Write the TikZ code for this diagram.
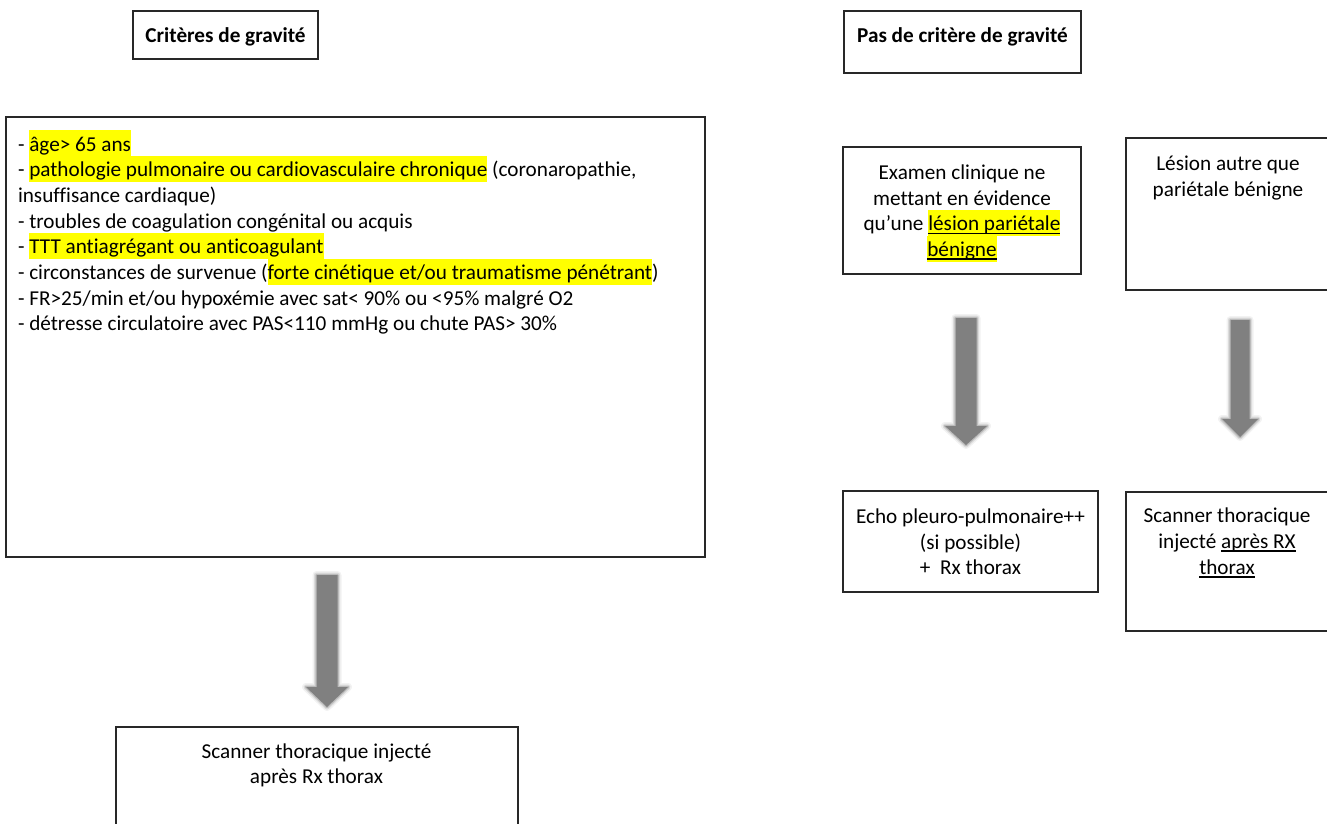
\documentclass[tikz,border=0pt]{standalone}
\usepackage{fontspec}
\setmainfont{Carlito}[Ligatures={NoCommon,NoContextual}, RawFeature={-liga;-clig;-calt;-dlig}]
\usetikzlibrary{calc,fit}
\definecolor{hly}{RGB}{255,255,0}
\definecolor{arrowgray}{RGB}{128,128,128}
\definecolor{boxline}{RGB}{40,40,40}
\newcommand\ms{\rule[-5.1pt]{0pt}{25.7pt}}
\newcommand\hlt[1]{{\fboxsep=0pt\colorbox{hly}{\ms#1}}}
\newcommand\myul[1]{\setbox0\hbox{#1}\rlap{\rule[-3.4pt]{\wd0}{1.6pt}}\box0}
\newcommand\arrpath[5]{($(#1)+(-#3,0)$) -- ($(#2)+(-#3,-#5)$) -- ($(#2)+(-#4,-#5)$) -- (#2) -- ($(#2)+(#4,-#5)$) -- ($(#2)+(#3,-#5)$) -- ($(#1)+(#3,0)$) -- cycle}
\newcommand\blockarr[5]{%
  \draw[arrowgray, line width=8pt, opacity=0.10, line join=round] \arrpath{#1}{#2}{#3}{#4}{#5};
  \draw[arrowgray, line width=5pt, opacity=0.20, line join=round] \arrpath{#1}{#2}{#3}{#4}{#5};
  \draw[arrowgray, line width=2.5pt, opacity=0.35, line join=round] \arrpath{#1}{#2}{#3}{#4}{#5};
  \fill[arrowgray] \arrpath{#1}{#2}{#3}{#4}{#5};
}
\AtBeginDocument{\lineskiplimit=-50pt\relax\normallineskiplimit=-50pt\relax}
\begin{document}
\begin{tikzpicture}[x=1pt,y=-1pt,
  box/.style={draw=boxline, line width=1.2pt, inner sep=0pt, outer sep=0pt},
  txt/.style={inner sep=0pt, outer sep=0pt, font=\fontsize{21.2pt}{25.7pt}\selectfont}]
\fill[white] (0,0) rectangle (1327,823);
\useasboundingbox (0,0) rectangle (1327,823);
\clip (0,0) rectangle (1327,823);

% boxes
\node[box, fit={(133,11) (318,59)}] (critbox) {};
\node[box, fit={(844,11) (1081,73)}] (pasbox) {};
\node[box, fit={(6,117) (705,557)}] (bigbox) {};
\node[box, fit={(843,147) (1081,274)}] (exambox) {};
\node[box, fit={(1126,138) (1345,290)}] (lesbox) {};
\node[box, fit={(843,491) (1098,592)}] (echobox) {};
\node[box, fit={(1126,492) (1345,631)}] (scanrbox) {};
\node[box, fit={(116,727) (518,850)}] (scanbbox) {};

% texts
\node[txt, anchor=north] (crittxt) at (225.5,22.1) {\ms\bfseries Critères de gravité};
\node[txt, anchor=north] (pastxt) at (962.5,22.1) {\ms\bfseries Pas de critère de gravité};

\node[txt, anchor=north west, align=left] (bigtxt) at (18,130.4) {\ms- \hlt{âge> 65 ans}\\
\ms- \hlt{pathologie pulmonaire ou cardiovasculaire chronique} (coronaropathie,\\
\ms insuffisance cardiaque)\\
\ms- troubles de coagulation congénital ou acquis\\
\ms- \hlt{TTT antiagrégant ou anticoagulant}\\
\ms- circonstances de survenue (\hlt{forte cinétique et/ou traumatisme pénétrant})\\
\ms- FR>25/min et/ou hypoxémie avec sat< 90\% ou <95\% malgré O2\\
\ms- détresse circulatoire avec PAS<110 mmHg ou chute PAS> 30\%};

\node[txt, anchor=north, align=center] (examtxt) at (962,158.7) {\ms Examen clinique ne\\
\ms mettant en évidence\\
\ms qu’une \hlt{\myul{lésion pariétale}}\\
\ms\hlt{\myul{bénigne}}};

\node[txt, anchor=north, align=center] (lestxt) at (1228,150.1) {\ms Lésion autre que\\
\ms pariétale bénigne};

\node[txt, anchor=north, align=center] (echotxt) at (970.5,502.7) {\ms Echo pleuro-pulmonaire++\\
\ms(si possible)\\
\ms +\ \ Rx thorax};

\node[txt, anchor=north, align=center] (scanrtxt) at (1227,502.1) {\ms Scanner thoracique\\
\ms injecté \myul{après RX}\\
\ms\myul{thorax}};

\node[txt, anchor=north, align=center] (scanbtxt) at (316.5,737.4) {\ms Scanner thoracique injecté\\
\ms après Rx thorax};

% arrows
\coordinate (a1s) at (327,575);
\coordinate (a1e) at (327,707);
\blockarr{a1s}{a1e}{10.5}{21}{20}
\coordinate (a2s) at (966,318);
\coordinate (a2e) at (966,445);
\blockarr{a2s}{a2e}{10.5}{21}{19}
\coordinate (a3s) at (1240,320);
\coordinate (a3e) at (1240,437);
\blockarr{a3s}{a3e}{9.5}{18}{18}
\end{tikzpicture}
\end{document}
